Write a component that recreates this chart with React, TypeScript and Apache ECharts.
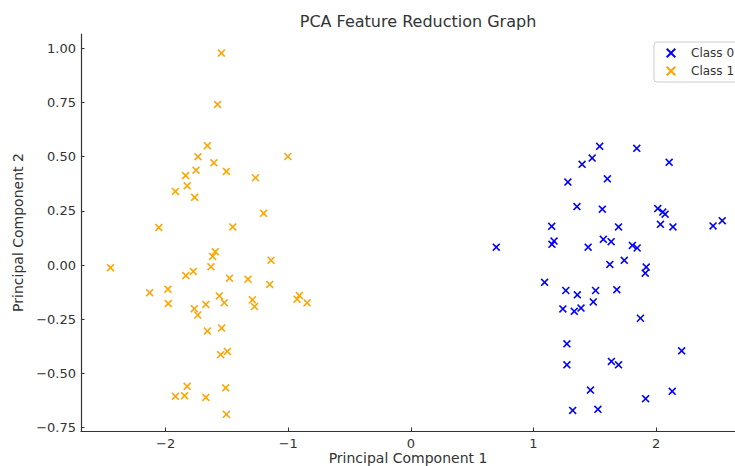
import React, { useEffect, useRef } from "react";
import * as echarts from "echarts";

const class0X = [1.540, 1.843, 1.479, 1.397, 2.107, 1.281, 1.603, 1.355, 1.562, 2.014, 2.055, 2.074, 1.149, 1.694, 2.036, 2.138, 2.465, 2.540, 0.697, 1.151, 1.168, 1.446, 1.570, 1.634, 1.807, 1.846, 1.623, 1.741, 1.920, 1.912, 1.091, 1.264, 1.358, 1.507, 1.680, 1.488, 1.240, 1.333, 1.388, 1.873, 1.273, 1.273, 2.209, 1.636, 1.694, 1.465, 2.132, 1.915, 1.320, 1.526];
const class0Y = [0.548, 0.539, 0.494, 0.465, 0.474, 0.383, 0.398, 0.270, 0.258, 0.261, 0.245, 0.235, 0.179, 0.176, 0.188, 0.176, 0.181, 0.205, 0.083, 0.096, 0.111, 0.083, 0.119, 0.108, 0.091, 0.079, 0.003, 0.022, -0.009, -0.037, -0.079, -0.117, -0.137, -0.117, -0.113, -0.170, -0.202, -0.213, -0.198, -0.245, -0.363, -0.460, -0.395, -0.444, -0.460, -0.576, -0.582, -0.616, -0.670, -0.665];
const class1X = [-1.545, -1.576, -1.659, -1.736, -1.606, -1.003, -1.752, -1.504, -1.837, -1.267, -1.824, -1.920, -1.763, -1.201, -2.055, -1.452, -2.449, -1.595, -1.617, -1.140, -1.630, -1.774, -1.835, -1.479, -1.328, -1.151, -2.130, -1.981, -1.978, -1.562, -1.521, -1.672, -1.766, -1.738, -1.292, -1.275, -0.928, -0.909, -0.846, -1.659, -1.543, -1.551, -1.496, -1.824, -1.920, -1.845, -1.672, -1.510, -1.504];
const class1Y = [0.978, 0.741, 0.551, 0.500, 0.472, 0.501, 0.438, 0.432, 0.413, 0.403, 0.366, 0.340, 0.313, 0.239, 0.173, 0.176, -0.012, 0.062, 0.040, 0.022, -0.008, -0.029, -0.048, -0.060, -0.065, -0.089, -0.127, -0.111, -0.177, -0.142, -0.173, -0.181, -0.201, -0.230, -0.160, -0.191, -0.157, -0.140, -0.174, -0.304, -0.290, -0.413, -0.398, -0.559, -0.605, -0.602, -0.610, -0.566, -0.688];

const xTicks = [-2, -1, 0, 1, 2];
const yTicks = [-0.75, -0.5, -0.25, 0, 0.25, 0.5, 0.75, 1.0];
const seriesNames = ["Class 0", "Class 1"];

const X_PATH = "path://M0,1.4L1.4,0L5,3.6L8.6,0L10,1.4L6.4,5L10,8.6L8.6,10L5,6.4L1.4,10L0,8.6L3.6,5Z";
const FONT = "DejaVu Sans";
const minus = (s: string) => s.replace("-", "\u2212");

export default function App() {
  const ref = useRef<HTMLDivElement>(null);
  useEffect(() => {
    if (!ref.current) return;
    const chart = echarts.init(ref.current, null, { renderer: "svg" });
    const zip = (xs: number[], ys: number[]) => xs.map((x, i) => [x, ys[i]]);
    chart.setOption({
      animation: false,
      title: {
        text: "PCA Feature Reduction Graph",
        left: 413,
        textAlign: "center",
        top: 8,
        textStyle: { fontFamily: FONT, fontSize: 16, fontWeight: "normal", color: "#333" },
      },
      legend: {
        orient: "vertical",
        left: 654,
        top: 42,
        padding: [5, 8, 5, 12],
        itemGap: 6,
        itemWidth: 10,
        itemHeight: 10,
        borderColor: "#ccc",
        borderWidth: 1,
        borderRadius: 3,
        data: seriesNames.map((n) => ({ name: n, icon: X_PATH })),
        textStyle: { fontFamily: FONT, fontSize: 12, color: "#333", padding: [0, 0, 0, 10] },
      },
      grid: { left: 81, top: 34, right: 0, bottom: 35, outerBoundsMode: "none", containLabel: false },
      xAxis: {
        type: "value",
        min: -2.69,
        max: 2.644,
        name: "Principal Component 1",
        nameLocation: "middle",
        nameGap: 20,
        nameMoveOverlap: false,
        nameTextStyle: { fontFamily: FONT, fontSize: 14, color: "#333" },
        splitLine: { show: false },
        axisLine: { show: true, onZero: false, lineStyle: { color: "#333", width: 1.2 } },
        axisTick: { show: true, inside: true, length: 3.5, customValues: xTicks, lineStyle: { color: "#333" } },
        axisLabel: {
          customValues: xTicks,
          margin: 6,
          fontFamily: FONT,
          fontSize: 13,
          color: "#333",
          formatter: (v: number) => minus(String(v)),
        },
      },
      yAxis: {
        type: "value",
        min: -0.765,
        max: 1.066,
        name: "Principal Component 2",
        nameLocation: "middle",
        nameGap: 55,
        nameTextStyle: { fontFamily: FONT, fontSize: 14, color: "#333" },
        splitLine: { show: false },
        axisLine: { show: true, onZero: false, lineStyle: { color: "#333", width: 1.2 } },
        axisTick: { show: true, inside: true, length: 3.5, customValues: yTicks, lineStyle: { color: "#333" } },
        axisLabel: {
          customValues: yTicks,
          margin: 5,
          fontFamily: FONT,
          fontSize: 13,
          color: "#333",
          formatter: (v: number) => minus(v.toFixed(2)),
        },
      },
      series: [
        {
          name: seriesNames[0],
          type: "scatter",
          symbol: X_PATH,
          symbolSize: 8,
          itemStyle: { color: "#0000ff", opacity: 1 },
          data: zip(class0X, class0Y),
        },
        {
          name: seriesNames[1],
          type: "scatter",
          symbol: X_PATH,
          symbolSize: 8,
          itemStyle: { color: "#ffa500", opacity: 1 },
          data: zip(class1X, class1Y),
        },
      ],
    });
    return () => chart.dispose();
  }, []);
  return <div ref={ref} style={{ width: 735, height: 466, position: "absolute", left: 0, top: 0 }} />;
}
